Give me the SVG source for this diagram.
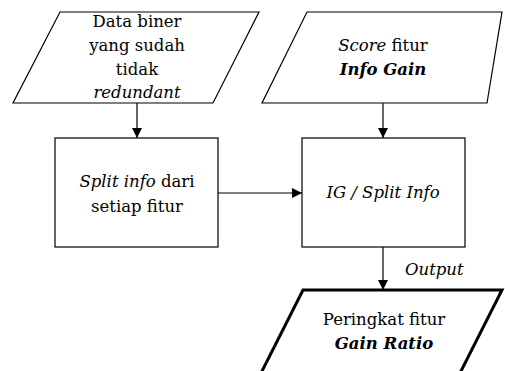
<svg xmlns="http://www.w3.org/2000/svg" width="505" height="371" viewBox="0 0 505 371">
<defs>
<marker id="arr" viewBox="0 0 10 10" refX="10" refY="5" markerWidth="10" markerHeight="10" markerUnits="userSpaceOnUse" orient="auto">
<path d="M0,0 L10,5 L0,10 Z" fill="#000"/>
</marker>
</defs>
<style>
.sh{fill:#fff;stroke:#000;stroke-width:1.2}
.thick{fill:#fff;stroke:#000;stroke-width:3}
.i{font-style:italic}
.b{font-weight:bold}
.c{stroke:#000;stroke-width:1.2;fill:none;marker-end:url(#arr)}
</style>
<rect width="505" height="371" fill="#fff"/>
<g font-family="DejaVu Serif, serif" font-size="16.5" text-anchor="middle" fill="#000">
<g id="connectors">
<line class="c" x1="137" y1="103" x2="137" y2="138"/>
<line class="c" x1="383" y1="103" x2="383" y2="138"/>
<line class="c" x1="218" y1="193" x2="302" y2="193"/>
<line class="c" x1="383" y1="247" x2="383" y2="290"/>
<text class="i" x="405" y="275" text-anchor="start">Output</text>
</g>
<g id="input-data">
<polygon class="sh" points="60,12 259,12 213,103 13,103"/>
<text x="137" y="27">Data biner</text>
<text x="137" y="51">yang sudah</text>
<text x="137" y="75">tidak</text>
<text class="i" x="137" y="98">redundant</text>
</g>
<g id="input-score">
<polygon class="sh" points="307,12 502,12 487,103 262,103"/>
<text x="383" y="51"><tspan class="i">Score</tspan> fitur</text>
<text class="i b" x="383" y="75">Info Gain</text>
</g>
<g id="split-info">
<rect class="sh" x="55" y="138" width="163" height="109"/>
<text x="137" y="187"><tspan class="i">Split info</tspan> dari</text>
<text x="137" y="212">setiap fitur</text>
</g>
<g id="ratio">
<rect class="sh" x="302" y="138" width="163" height="109"/>
<text class="i" x="383" y="198">IG / Split Info</text>
</g>
<g id="output">
<polygon class="thick" points="303,290 502,290 455,383 256,383"/>
<text x="384" y="325">Peringkat fitur</text>
<text class="i b" x="384" y="349">Gain Ratio</text>
</g>
</g>
</svg>
